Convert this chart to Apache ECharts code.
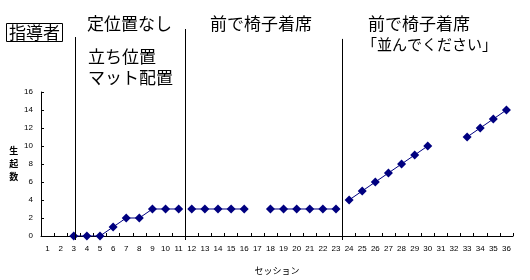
<!DOCTYPE html>
<html><head><meta charset="utf-8">
<script src="https://cdn.jsdelivr.net/npm/echarts@6/dist/echarts.min.js"></script>
<style>html,body{margin:0;padding:0;background:#fff}#c{width:530px;height:280px}</style>
</head><body><div id="c"></div>
<script>
const sessions = ['1','2','3','4','5','6','7','8','9','10','11','12','13','14','15','16','17','18','19','20','21','22','23','24','25','26','27','28','29','30','31','32','33','34','35','36'];
const counts = [null,null,0,0,0,1,2,2,3,3,3, 3,3,3,3,3,null,3,3,3,3,3,3, 4,5,6,7,8,9,10,null,null,11,12,13,14];
const phaseStartIdx = [0, 11, 23];
const phaseLineX = [2.6, 11, 23];
const phaseLineTop = [0.962, 1, 0.953];
const yTicks = {min:0, max:16, interval:2};

const FONT = '"Noto Sans CJK JP", "Noto Sans", sans-serif';
const chart = echarts.init(document.getElementById('c'));

const phaseSeries = phaseStartIdx.map((s, p) => {
  const e = p + 1 < phaseStartIdx.length ? phaseStartIdx[p + 1] : counts.length;
  return {
    type: 'line', xAxisIndex: 0, yAxisIndex: 0,
    data: counts.map((v, i) => (i >= s && i < e) ? v : null),
    connectNulls: false,
    symbol: 'diamond', symbolSize: 9,
    lineStyle: {color: '#000080', width: 1},
    itemStyle: {color: '#000080'},
    silent: true, animation: false
  };
});

const phaseLines = {
  type: 'line', xAxisIndex: 1, yAxisIndex: 1,
  data: [], silent: true, animation: false,
  markLine: {
    symbol: 'none', silent: true, animation: false,
    label: {show: false},
    lineStyle: {color: '#000', width: 1, type: 'solid'},
    data: phaseLineX.map((x, i) => [{coord: [x, 0]}, {coord: [x, phaseLineTop[i]]}])
  }
};

const ts = (size) => ({fontSize: size, fontWeight: 'normal', color: '#000', fontFamily: FONT});
const titles = [
  {text: '指導者', left: 6, top: 23, padding: [1, 3, 1, 3], borderWidth: 1, borderColor: '#000', textStyle: ts(17)},
  {text: '定位置なし', left: 87, top: 15, padding: 0, textStyle: ts(17)},
  {text: '立ち位置', left: 88, top: 48, padding: 0, textStyle: ts(17)},
  {text: 'マット配置', left: 88, top: 69, padding: 0, textStyle: ts(17)},
  {text: '前で椅子着席', left: 210, top: 15, padding: 0, textStyle: ts(17)},
  {text: '前で椅子着席', left: 368, top: 15, padding: 0, textStyle: ts(17)},
  {text: '「並んでください」', left: 362, top: 37, padding: 0, textStyle: ts(15)}
];

chart.setOption({
  animation: false,
  backgroundColor: '#fff',
  title: titles,
  grid: [
    {left: 41, right: 17, top: 92, bottom: 44},
    {left: 41, right: 17, top: 29, bottom: 40}
  ],
  xAxis: [
    {
      type: 'category', gridIndex: 0, data: sessions, boundaryGap: true,
      name: 'セッション', nameLocation: 'middle', nameGap: 30,
      nameTextStyle: {fontSize: 9, color: '#000', fontFamily: FONT},
      axisLine: {lineStyle: {color: '#000', width: 1}},
      axisTick: {show: true, inside: true, length: 3, alignWithLabel: false, lineStyle: {color: '#000'}},
      axisLabel: {fontSize: 8, color: '#000', margin: 9, interval: 0, fontFamily: '"Liberation Sans", sans-serif'},
      splitLine: {show: false}
    },
    {type: 'value', gridIndex: 1, min: 0, max: 36, show: false}
  ],
  yAxis: [
    {
      type: 'value', gridIndex: 0, min: yTicks.min, max: yTicks.max, interval: yTicks.interval,
      name: '生\n起\n数', nameLocation: 'middle', nameGap: 19, nameRotate: 0,
      nameTextStyle: {fontSize: 9, fontWeight: 'bold', color: '#000', lineHeight: 13, fontFamily: FONT},
      axisLine: {show: true, lineStyle: {color: '#000', width: 1}},
      axisTick: {show: true, inside: true, length: 3, lineStyle: {color: '#000'}},
      axisLabel: {fontSize: 8, color: '#000', margin: 8, fontFamily: '"Liberation Sans", sans-serif'},
      splitLine: {show: false}
    },
    {type: 'value', gridIndex: 1, min: 0, max: 1, show: false}
  ],
  series: phaseSeries.concat([phaseLines])
});
</script>
</body></html>
